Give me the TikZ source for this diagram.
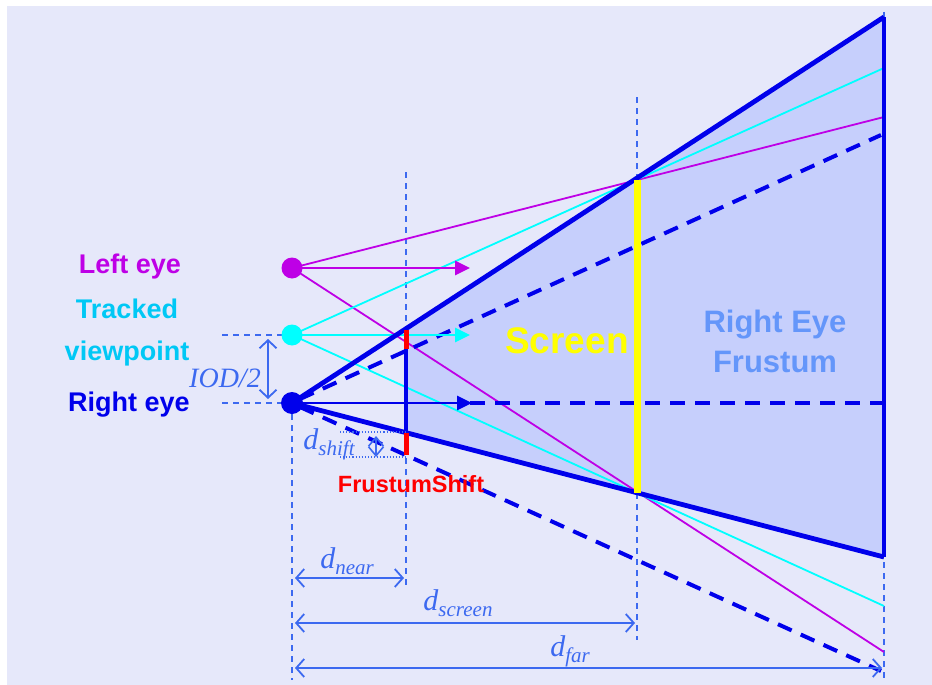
\documentclass[tikz,border=0pt]{standalone}
\usepackage{fontspec}
\setmainfont{Liberation Sans}
\newfontfamily\tnr{Liberation Serif}
\usetikzlibrary{arrows.meta}
\definecolor{bgc}{RGB}{230,232,250}
\definecolor{frc}{RGB}{198,207,252}
\definecolor{eyeb}{RGB}{0,0,235}
\definecolor{purp}{RGB}{190,0,230}
\definecolor{cyanc}{RGB}{0,255,255}
\definecolor{cyant}{RGB}{0,200,245}
\definecolor{dimc}{RGB}{60,105,240}
\definecolor{frtext}{RGB}{100,150,250}
\definecolor{redc}{RGB}{255,0,0}
\definecolor{scry}{RGB}{255,255,0}
\newcommand{\dsub}[2]{{\tnr\itshape\fontsize{30}{32}\selectfont #1\raisebox{-6pt}{\fontsize{21}{22}\selectfont #2}}}
\begin{document}
\begin{tikzpicture}[x=1pt,y=-1pt,
  eyelab/.style={font=\bfseries\fontsize{27}{42}\selectfont, align=center},
  thickb/.style={eyeb, line width=4.8pt},
  dashb/.style={eyeb, line width=4pt, dash pattern=on 15pt off 10pt},
  guide/.style={dimc, line width=1.6pt, dash pattern=on 6pt off 5pt},
  dim/.style={dimc, line width=1.8pt, {Straight Barb[length=8pt,width=18pt]}-{Straight Barb[length=8pt,width=18pt]}},
  ray/.style={line width=1.8pt},
  harrow/.style={line width=2.8pt, -{Triangle[length=15pt,width=14pt]}},
  dimlab/.style={dimc, inner sep=0pt},
  eyedot/.style={circle, inner sep=0pt, minimum size=#1}
]
\useasboundingbox (0,0) rectangle (932,685);
\fill[bgc] (7,6) rectangle (932,685);

% key coordinates
\coordinate (R) at (292,403);
\coordinate (T) at (292,335);
\coordinate (L) at (292,268);
\coordinate (ST) at (637,180);
\coordinate (SB) at (637,493);
\coordinate (NT) at (406,329.5);
\coordinate (NB) at (406,432.5);
\coordinate (FT) at (884,17);
\coordinate (FB) at (884,557);

% frustum fill
\fill[frc] (NT) -- (FT) -- (FB) -- (NB) -- cycle;

% guide lines
\draw[guide] (292,403) -- (292,680);
\draw[guide] (406,172) -- (406,588);
\draw[guide] (637,97) -- (637,640);
\draw[guide] (884,12) -- (884,680);
\draw[guide] (222,335) -- (T);
\draw[guide] (222,403) -- (R);

% rays from left eye
\coordinate (LT) at (884,117);
\coordinate (LB) at (884,652);
\draw[purp, ray] (L) -- (LT);
\draw[purp, ray] (L) -- (LB);
% rays from tracked viewpoint
\coordinate (TT) at (884,68);
\coordinate (TB) at (884,606);
\draw[cyanc, ray] (T) -- (TT);
\draw[cyanc, ray] (T) -- (TB);

% symmetric frustum (dashed)
\coordinate (DT) at (881,135);
\coordinate (DB) at (881,671);
\coordinate (DC) at (884,403);
\draw[dashb] (300,399) -- (DT);
\draw[dashb] (300,407) -- (DB);
\draw[dashb] (470,403) -- (DC);

% horizontal arrows
\coordinate (LA) at (470,268);
\coordinate (TA) at (470,335);
\coordinate (RA) at (472,403);
\draw[purp, harrow] (L) -- (LA);
\draw[cyanc, harrow] (T) -- (TA);
\draw[eyeb, harrow] (R) -- (RA);

% frustum edges
\draw[thickb, line join=round] (R) -- (FT);
\draw[thickb, line join=round] (R) -- (FB);
\draw[thickb] (FT) -- (FB);
\draw[thickb] (NT) -- (NB);

% frustum shift marks
\draw[redc, line width=5pt] (406,330) -- (406,349);
\draw[redc, line width=5pt] (406,433) -- (406,455);

% screen
\draw[scry, line width=7pt] (ST) -- (SB);

% eyes
\node[eyedot=21pt, fill=purp] (le) at (L) {};
\node[eyedot=21pt, fill=cyanc] (te) at (T) {};
\node[eyedot=22pt, fill=eyeb] (re) at (R) {};

% labels
\node[eyelab, text=purp] (ll) at (130,267) {Left eye};
\node[eyelab, text=cyant] (tl) at (127,333) {Tracked\\viewpoint};
\node[eyelab, text=eyeb] (rl) at (129,405) {Right eye};
\node[font=\bfseries\fontsize{37}{40}\selectfont, text=scry] (scr) at (567,341) {Screen};
\node[font=\bfseries\fontsize{31}{40}\selectfont, text=frtext, align=center] (fr) at (775,341) {Right Eye\\Frustum};
\node[font=\bfseries\fontsize{23.5}{26}\selectfont, text=redc] (fs) at (411,484) {FrustumShift};

% IOD/2
\coordinate (I1) at (268,339);
\coordinate (I2) at (268,399);
\draw[dim, {Straight Barb[length=8pt,width=17pt]}-{Straight Barb[length=8pt,width=17pt]}] (I1) -- (I2);
\node[dimlab, font=\tnr\itshape\fontsize{28}{30}\selectfont] (iod) at (225,378) {IOD/2};

% d shift
\draw[dimc, line width=1.1pt, dotted] (340,432) -- (406,432);
\draw[dimc, line width=1.1pt, dotted] (340,457) -- (406,457);
\coordinate (S1) at (376,436);
\coordinate (S2) at (376,457);
\draw[dimc, line width=1.6pt, {Straight Barb[length=9pt,width=15pt]}-{Straight Barb[length=9pt,width=15pt]}] (S1) -- (S2);
\node[dimlab] (dsh) at (329,444) {\dsub{d}{shift}};

% distance dimensions
\coordinate (N1) at (295,578);
\coordinate (N2) at (404,578);
\draw[dim] (N1) -- (N2);
\node[dimlab] (dn) at (347,561) {\dsub{d}{near}};
\coordinate (C1) at (295,623);
\coordinate (C2) at (635,623);
\draw[dim] (C1) -- (C2);
\node[dimlab] (dsc) at (458,603) {\dsub{d}{screen}};
\coordinate (F1) at (295,668);
\coordinate (F2) at (882,668);
\draw[dim] (F1) -- (F2);
\node[dimlab] (df) at (570,651) {\dsub{d}{far}};
\end{tikzpicture}
\end{document}
